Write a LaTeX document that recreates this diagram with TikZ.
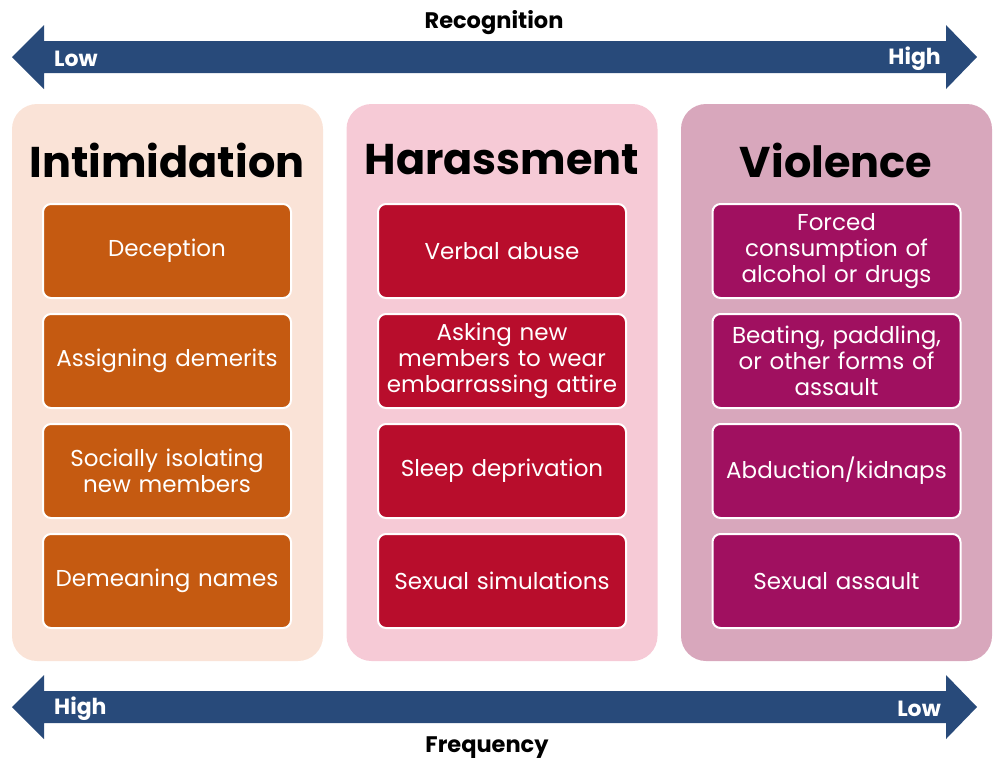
\documentclass[tikz,border=0pt]{standalone}
\usepackage{fontspec}
\setmainfont{Poppins}
\definecolor{navy}{HTML}{284A7A}
\definecolor{peach}{HTML}{FAE3D7}
\definecolor{pinkbg}{HTML}{F6CAD6}
\definecolor{mauve}{HTML}{D8A7BC}
\definecolor{orangebox}{HTML}{C55A11}
\definecolor{redbox}{HTML}{B80D2C}
\definecolor{plumbox}{HTML}{A01060}
\tikzset{
  panel/.style={minimum width=311pt, minimum height=557pt, rounded corners=25pt, inner sep=0pt},
  item/.style={draw=white, line width=2pt, rounded corners=8pt, minimum width=248pt, minimum height=94pt,
     text width=244pt, align=center, text=white, inner sep=0pt, font=\fontsize{23}{26}\selectfont},
  ttl/.style={font=\fontsize{43}{52}\selectfont\bfseries, text=black},
  axlbl/.style={font=\fontsize{22}{26}\selectfont\bfseries, text=white, inner sep=0pt},
  axname/.style={font=\fontsize{22.5}{26}\selectfont\bfseries, text=black, inner sep=0pt}
}
\begin{document}
\begin{tikzpicture}[x=1pt,y=-1pt]
\useasboundingbox (0,0) rectangle (993,761);
% top arrow
\fill[navy] (12,57) -- (44,25) -- (44,41) -- (946,41) -- (946,25) -- (977,57) -- (946,89) -- (946,73) -- (44,73) -- (44,89) -- cycle;
% bottom arrow
\fill[navy] (12,707) -- (44,675) -- (44,691) -- (946,691) -- (946,675) -- (977,707) -- (946,739) -- (946,723) -- (44,723) -- (44,739) -- cycle;
\node[axname] (rec) at (494,23) {Recognition};
\node[axname] (freq) at (487,748) {Frequency};
\node[axlbl, anchor=west] (tl) at (54,59) {Low};
\node[axlbl, anchor=east] (th) at (941,59) {High};
\node[axlbl, anchor=west] (bh) at (54,709) {High};
\node[axlbl, anchor=east] (bl) at (941,709) {Low};
% panels
\node[panel, fill=peach] (p1) at (167.5,382.5) {};
\node[panel, fill=pinkbg] (p2) at (502,382.5) {};
\node[panel, fill=mauve] (p3) at (836.5,382.5) {};
\node[ttl] (t1) at (167,160) {Intimidation};
\node[ttl] (t2) at (502,160) {Harassment};
\node[ttl] (t3) at (836,160) {Violence};
% items
\node[item, fill=orangebox] (a1) at (167,251) {Deception};
\node[item, fill=orangebox] (a2) at (167,361) {Assigning demerits};
\node[item, fill=orangebox] (a3) at (167,471) {Socially isolating\\new members};
\node[item, fill=orangebox] (a4) at (167,581) {Demeaning names};
\node[item, fill=redbox] (b1) at (502,251) {Verbal abuse};
\node[item, fill=redbox] (b2) at (502,361) {Asking new\\members to wear\\embarrassing attire};
\node[item, fill=redbox] (b3) at (502,471) {Sleep deprivation};
\node[item, fill=redbox] (b4) at (502,581) {Sexual simulations};
\node[item, fill=plumbox] (c1) at (836.5,251) {Forced\\consumption of\\alcohol or drugs};
\node[item, fill=plumbox] (c2) at (836.5,361) {Beating, paddling,\\or other forms of\\assault};
\node[item, fill=plumbox] (c3) at (836.5,471) {Abduction/kidnaps};
\node[item, fill=plumbox] (c4) at (836.5,581) {Sexual assault};
\end{tikzpicture}
\end{document}
